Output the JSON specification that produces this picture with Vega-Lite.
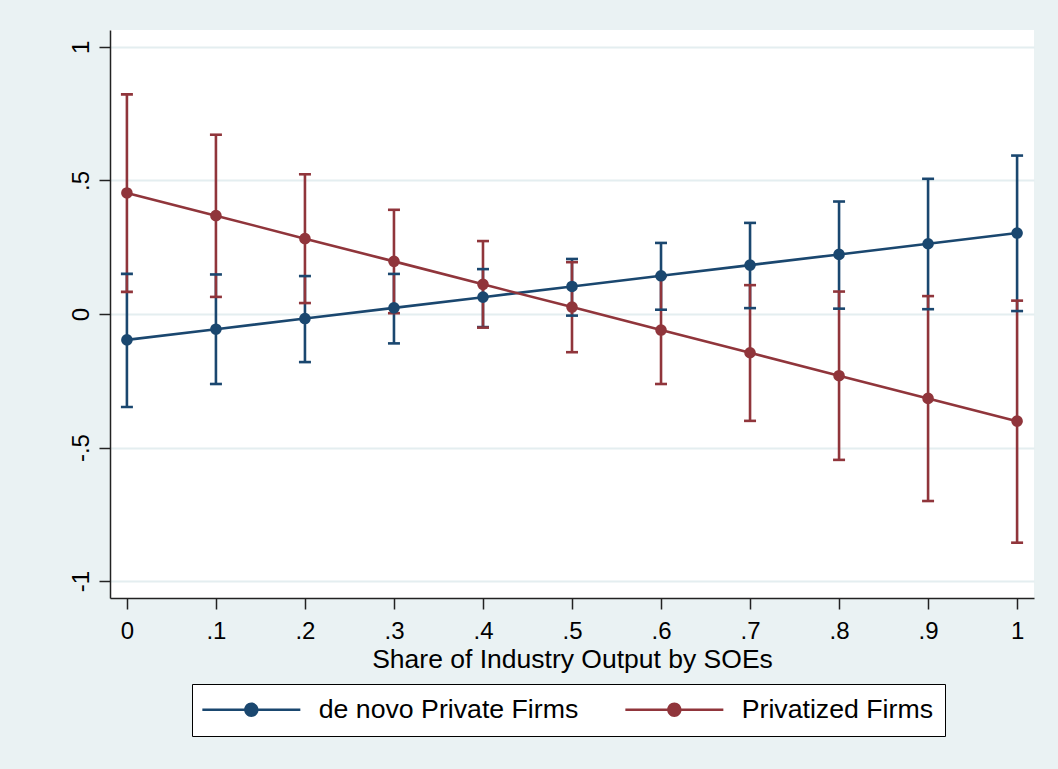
{
  "$schema": "https://vega.github.io/schema/vega-lite/v6.json",
  "width": 924,
  "height": 568,
  "autosize": {"type": "none"},
  "padding": {"left": 110, "top": 30, "right": 24, "bottom": 171},
  "background": "#EAF2F3",
  "config": {
    "view": {"fill": "white", "stroke": null},
    "font": "Liberation Sans"
  },
  "data": {
    "values": [
      {"x": 0.0, "series": "de novo Private Firms", "est": -0.097, "lo": -0.348, "hi": 0.150},
      {"x": 0.1, "series": "de novo Private Firms", "est": -0.057, "lo": -0.262, "hi": 0.148},
      {"x": 0.2, "series": "de novo Private Firms", "est": -0.017, "lo": -0.180, "hi": 0.142},
      {"x": 0.3, "series": "de novo Private Firms", "est": 0.023, "lo": -0.110, "hi": 0.150},
      {"x": 0.4, "series": "de novo Private Firms", "est": 0.063, "lo": -0.049, "hi": 0.168},
      {"x": 0.5, "series": "de novo Private Firms", "est": 0.103, "lo": -0.006, "hi": 0.206},
      {"x": 0.6, "series": "de novo Private Firms", "est": 0.143, "lo": 0.016, "hi": 0.266},
      {"x": 0.7, "series": "de novo Private Firms", "est": 0.183, "lo": 0.022, "hi": 0.341},
      {"x": 0.8, "series": "de novo Private Firms", "est": 0.223, "lo": 0.020, "hi": 0.421},
      {"x": 0.9, "series": "de novo Private Firms", "est": 0.263, "lo": 0.018, "hi": 0.506},
      {"x": 1.0, "series": "de novo Private Firms", "est": 0.303, "lo": 0.011, "hi": 0.593},
      {"x": 0.0, "series": "Privatized Firms", "est": 0.453, "lo": 0.083, "hi": 0.822},
      {"x": 0.1, "series": "Privatized Firms", "est": 0.368, "lo": 0.064, "hi": 0.671},
      {"x": 0.2, "series": "Privatized Firms", "est": 0.282, "lo": 0.041, "hi": 0.523},
      {"x": 0.3, "series": "Privatized Firms", "est": 0.197, "lo": 0.003, "hi": 0.390},
      {"x": 0.4, "series": "Privatized Firms", "est": 0.111, "lo": -0.051, "hi": 0.273},
      {"x": 0.5, "series": "Privatized Firms", "est": 0.026, "lo": -0.143, "hi": 0.194},
      {"x": 0.6, "series": "Privatized Firms", "est": -0.060, "lo": -0.262, "hi": 0.142},
      {"x": 0.7, "series": "Privatized Firms", "est": -0.145, "lo": -0.400, "hi": 0.108},
      {"x": 0.8, "series": "Privatized Firms", "est": -0.231, "lo": -0.546, "hi": 0.084},
      {"x": 0.9, "series": "Privatized Firms", "est": -0.316, "lo": -0.700, "hi": 0.067},
      {"x": 1.0, "series": "Privatized Firms", "est": -0.401, "lo": -0.856, "hi": 0.050}
    ]
  },
  "encoding": {
    "x": {
      "field": "x", "type": "quantitative",
      "scale": {"domain": [-0.019, 1.019], "nice": false, "zero": false},
      "axis": {
        "values": [0, 0.1, 0.2, 0.3, 0.4, 0.5, 0.6, 0.7, 0.8, 0.9, 1],
        "labelExpr": "replace('' + datum.value, '0.', '.')",
        "title": "Share of Industry Output by SOEs",
        "titleFont": "Liberation Sans", "titleFontSize": 26.5, "titleFontWeight": "normal", "titleColor": "black",
        "titlePadding": 3,
        "labelFont": "Liberation Sans", "labelFontSize": 24, "labelColor": "black",
        "labelPadding": 10, "tickSize": 11, "tickColor": "#222", "tickWidth": 1.5,
        "domainColor": "#222", "domainWidth": 1.5, "grid": false,
        "labelFlush": false, "labelOverlap": false
      }
    },
    "color": {
      "field": "series", "type": "nominal",
      "scale": {"domain": ["de novo Private Firms", "Privatized Firms"], "range": ["#1A476F", "#90353B"]},
      "legend": {
        "title": null, "orient": "none", "legendX": 82, "legendY": 654, "direction": "horizontal",
        "symbolType": "M-4.9,-0.12L-0.6,-0.12L-0.6,0.12L-4.9,0.12Z M0.6,-0.12L4.9,-0.12L4.9,0.12L0.6,0.12Z M0,-0.72A0.72,0.72,0,1,1,0,0.72A0.72,0.72,0,1,1,0,-0.72Z",
        "symbolSize": 400, "symbolStrokeWidth": 0, "symbolOffset": 34, "labelOffset": 54,
        "symbolOpacity": 1,
        "labelFont": "Liberation Sans", "labelFontSize": 26.7, "labelColor": "black", "labelLimit": 0,
        "columnPadding": 46, "padding": 12, "strokeColor": "black", "fillColor": "white", "cornerRadius": 0,
        "encode": {
          "symbols": {"update": {"fill": {"scale": "color", "field": "value"}, "stroke": {"value": "transparent"}, "opacity": {"value": 1}}}
        }
      }
    }
  },
  "layer": [
    {
      "mark": {"type": "rule", "strokeWidth": 2.6},
      "encoding": {
        "y": {
          "field": "lo", "type": "quantitative",
          "scale": {"domain": [-1.063, 1.063], "nice": false, "zero": false},
          "axis": {
            "values": [-1, -0.5, 0, 0.5, 1],
            "labelExpr": "replace('' + datum.value, '0.', '.')",
            "title": null,
            "labelAngle": -90, "labelAlign": "center", "labelBaseline": "alphabetic",
            "labelFont": "Liberation Sans", "labelFontSize": 24, "labelColor": "black",
            "labelPadding": 11, "tickSize": 11, "tickColor": "#222", "tickWidth": 1.5,
            "domainColor": "#222", "domainWidth": 1.5,
            "grid": true, "gridColor": "#E4EEF0", "gridWidth": 2,
            "labelFlush": false, "labelOverlap": false
          }
        },
        "y2": {"field": "hi"}
      }
    },
    {
      "mark": {"type": "tick", "orient": "horizontal", "size": 12, "thickness": 2.6, "opacity": 1},
      "encoding": {"y": {"field": "lo", "type": "quantitative"}}
    },
    {
      "mark": {"type": "tick", "orient": "horizontal", "size": 12, "thickness": 2.6, "opacity": 1},
      "encoding": {"y": {"field": "hi", "type": "quantitative"}}
    },
    {
      "mark": {"type": "line", "strokeWidth": 2.6},
      "encoding": {"y": {"field": "est", "type": "quantitative"}}
    },
    {
      "mark": {"type": "point", "filled": true, "size": 135, "opacity": 1, "shape": "circle"},
      "encoding": {"y": {"field": "est", "type": "quantitative"}}
    }
  ]
}
